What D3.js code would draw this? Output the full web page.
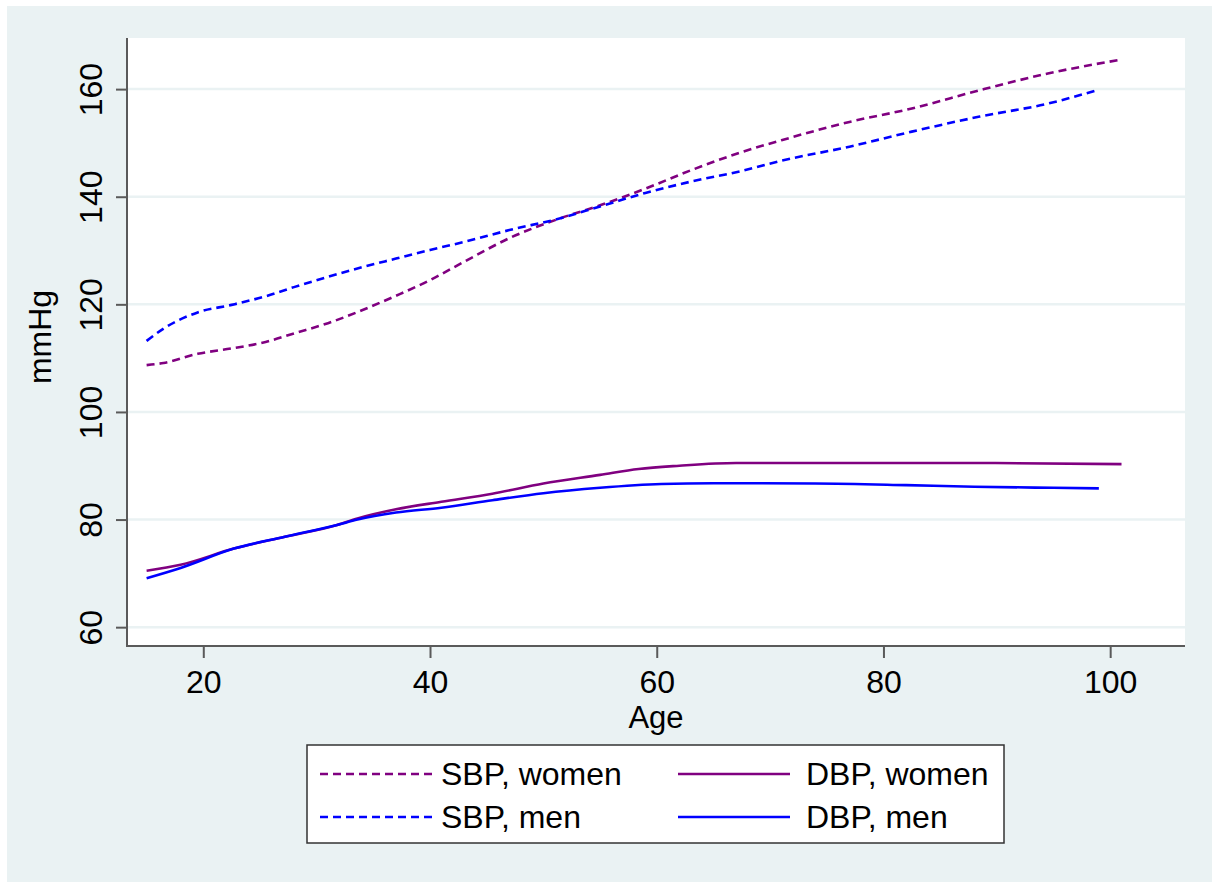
<!DOCTYPE html>
<html>
<head>
<meta charset="utf-8">
<script src="https://cdn.jsdelivr.net/npm/d3@7"></script>
<style>
  body { margin: 0; background: #fff; }
  text { font-family: "Liberation Sans", Arial, sans-serif; fill: #000; }
</style>
</head>
<body>
<svg id="js-svg" width="1212" height="882"></svg>
<script>
// values
const sbpWomenAge = [15, 16.5, 19.5, 22.5, 25.5, 28, 31, 34, 37, 40, 43, 47, 51.5, 55, 59, 63, 67.5, 71, 77, 82.5, 88.5, 94.5, 101];
const sbpWomen = [108.7, 109.1, 110.8, 111.8, 113.0, 114.6, 116.5, 118.9, 121.6, 124.5, 127.9, 132.3, 136, 138.4, 141.5, 144.9, 148.3, 150.5, 153.9, 156.4, 159.8, 162.9, 165.5];

const sbpMenAge = [15, 16.5, 19.5, 22.5, 25.5, 28, 31, 34, 37, 40, 43, 47, 51.5, 55, 59, 63, 67.5, 71, 77, 82.5, 88.5, 94.5, 99];
const sbpMen = [113.2, 115.5, 118.5, 119.9, 121.5, 123.2, 125.1, 126.9, 128.5, 130.1, 131.6, 133.8, 136, 138.2, 140.7, 142.8, 144.8, 146.7, 149.3, 152.1, 154.9, 157.3, 159.9];

const dbpWomenAge = [15, 18, 22.7, 27.2, 31.8, 33.6, 37, 41, 45.5, 50, 55, 58.4, 62, 67, 89, 101];
const dbpWomen = [70.5, 71.6, 74.6, 76.8, 79.0, 80.2, 81.9, 83.3, 84.8, 86.7, 88.3, 89.4, 90.0, 90.5, 90.5, 90.3];

const dbpMenAge = [15, 18, 22.7, 27.2, 31.8, 33.6, 37, 41, 45.5, 50, 55, 60.4, 65, 74, 82, 88, 95, 99];
const dbpMen = [69.1, 71.0, 74.6, 76.8, 79.0, 80.0, 81.3, 82.2, 83.6, 84.9, 85.9, 86.6, 86.75, 86.7, 86.4, 86.1, 85.9, 85.8];

const xTicks = [20, 40, 60, 80, 100];
const yTicks = [60, 80, 100, 120, 140, 160];

const seriesNames = ["SBP, women", "SBP, men", "DBP, women", "DBP, men"];

const purple = "#800080";
const blue = "#0000ff";
const gridColor = "#eaf2f3";
const axisColor = "#5a5a5a";

const series = [
  { name: seriesNames[0], age: sbpWomenAge, val: sbpWomen, color: purple, dash: "8,5" },
  { name: seriesNames[1], age: sbpMenAge, val: sbpMen, color: blue, dash: "8,5" },
  { name: seriesNames[2], age: dbpWomenAge, val: dbpWomen, color: purple, dash: null },
  { name: seriesNames[3], age: dbpMenAge, val: dbpMen, color: blue, dash: null }
];

const svg = d3.select("#js-svg");

// graph region background
svg.append("rect")
  .attr("x", 7).attr("y", 6)
  .attr("width", 1205).attr("height", 876)
  .attr("fill", gridColor);

const plot = { left: 127, right: 1185, top: 38, bottom: 646 };

svg.append("rect")
  .attr("x", plot.left).attr("y", plot.top)
  .attr("width", plot.right - plot.left).attr("height", plot.bottom - plot.top)
  .attr("fill", "#fff");

const x = d3.scaleLinear().domain([13.27, 106.6]).range([plot.left, plot.right]);
const y = d3.scaleLinear().domain([56.5, 169.5]).range([plot.bottom, plot.top]);

// gridlines
svg.append("g")
  .selectAll("line")
  .data(yTicks)
  .join("line")
  .attr("x1", plot.left).attr("x2", plot.right)
  .attr("y1", d => y(d)).attr("y2", d => y(d))
  .attr("stroke", gridColor)
  .attr("stroke-width", 2.5);

// axes
const yAxis = svg.append("g")
  .attr("transform", `translate(${plot.left},0)`)
  .call(d3.axisLeft(y).tickValues(yTicks).tickSize(11).tickPadding(14).tickSizeOuter(0));
yAxis.select(".domain").remove();
yAxis.append("line")
  .attr("x1", 0).attr("x2", 0)
  .attr("y1", plot.top).attr("y2", plot.bottom + 1)
  .attr("stroke", axisColor).attr("stroke-width", 2);
yAxis.selectAll(".tick line").attr("stroke", axisColor).attr("stroke-width", 2);
yAxis.selectAll(".tick text")
  .attr("font-size", 32)
  .attr("fill", "#000")
  .attr("x", null).attr("dy", null)
  .attr("text-anchor", "middle")
  .attr("transform", "translate(-25,0) rotate(-90)");

const xAxis = svg.append("g")
  .attr("transform", `translate(0,${plot.bottom})`)
  .call(d3.axisBottom(x).tickValues(xTicks).tickSize(12).tickPadding(15).tickSizeOuter(0));
xAxis.select(".domain").remove();
xAxis.append("line")
  .attr("x1", plot.left).attr("x2", plot.right)
  .attr("y1", 0).attr("y2", 0)
  .attr("stroke", axisColor).attr("stroke-width", 2);
xAxis.selectAll(".tick line").attr("stroke", axisColor).attr("stroke-width", 2);
xAxis.selectAll(".tick text")
  .attr("font-size", 32)
  .attr("fill", "#000")
  .attr("dy", null)
  .attr("y", 47);

// axis titles
svg.append("text")
  .attr("x", (plot.left + plot.right) / 2)
  .attr("y", 728)
  .attr("text-anchor", "middle")
  .attr("font-size", 31)
  .text("Age");

svg.append("text")
  .attr("transform", `translate(51,${(plot.top + plot.bottom) / 2 - 5}) rotate(-90)`)
  .attr("text-anchor", "middle")
  .attr("font-size", 32)
  .text("mmHg");

// lines
const line = d3.line()
  .x(d => x(d[0]))
  .y(d => y(d[1]))
  .curve(d3.curveMonotoneX);

svg.append("g")
  .selectAll("path")
  .data(series)
  .join("path")
  .attr("d", s => line(s.age.map((a, i) => [a, s.val[i]])))
  .attr("fill", "none")
  .attr("stroke", s => s.color)
  .attr("stroke-width", 2.6)
  .attr("stroke-dasharray", s => s.dash);

// legend
const legend = svg.append("g");
legend.append("rect")
  .attr("x", 307).attr("y", 745)
  .attr("width", 697).attr("height", 98)
  .attr("fill", "#fff")
  .attr("stroke", "#333")
  .attr("stroke-width", 1.5);

const legendPos = [
  { lx: 320, tx: 441, y: 774 },
  { lx: 320, tx: 441, y: 817 },
  { lx: 678, tx: 806, y: 774 },
  { lx: 678, tx: 806, y: 817 }
];

series.forEach((s, i) => {
  const p = legendPos[i];
  legend.append("line")
    .attr("x1", p.lx).attr("x2", p.lx + 112)
    .attr("y1", p.y).attr("y2", p.y)
    .attr("stroke", s.color)
    .attr("stroke-width", 2.6)
    .attr("stroke-dasharray", s.dash);
  legend.append("text")
    .attr("x", p.tx)
    .attr("y", p.y + 11)
    .attr("font-size", 32)
    .text(s.name);
});
</script>
</body>
</html>
